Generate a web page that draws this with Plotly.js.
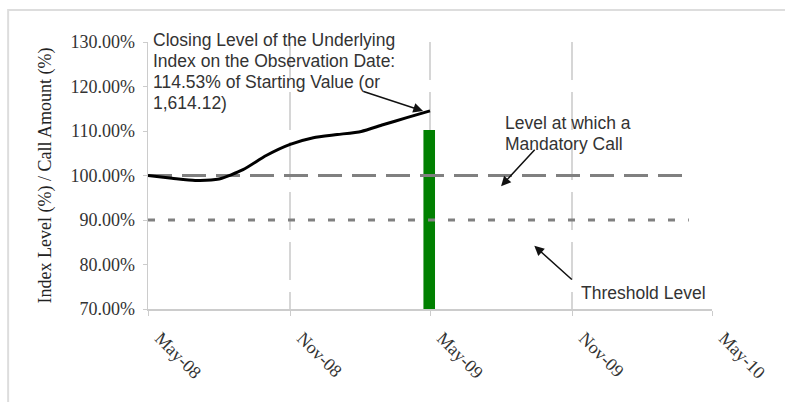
<!DOCTYPE html>
<html>
<head>
<meta charset="utf-8">
<script src="https://cdn.plot.ly/plotly-3.0.1.min.js"></script>
<style>
  html, body { margin: 0; padding: 0; background: #fff; }
  #chart { width: 785px; height: 402px; }
</style>
</head>
<body>
<div id="chart"></div>
<script>
// Index level path (monthly, % of starting value)
const indexDates = ['2008-05-01','2008-06-01','2008-07-01','2008-08-01','2008-09-01','2008-10-01','2008-11-01','2008-12-01','2009-01-01','2009-02-01','2009-03-01','2009-04-01','2009-05-01'];
const indexValues = [100.0, 99.4, 98.9, 99.2, 101.3, 104.5, 107.0, 108.5, 109.2, 109.9, 111.4, 113.0, 114.53];

// Call amount bar on the observation date
const callDates = ['2009-04-30'];
const callValues = [110.2];

// Reference levels
const levelDates = ['2008-05-01', '2010-04-01'];
const mandatoryCallLevel = [100, 100];
const thresholdLevel = [90, 90];

// Axis ticks
const yTicks = [70, 80, 90, 100, 110, 120, 130];
const yTickLabels = yTicks.map(v => v.toFixed(2) + '%');

// Annotation text lines
const closingText = ['Closing Level of the Underlying', 'Index on the Observation Date:', '114.53% of Starting Value (or', '1,614.12)'];
const callText = ['Level at which a', 'Mandatory Call'];
const thresholdText = ['Threshold Level'];

const traces = [
  { x: levelDates, y: mandatoryCallLevel, type: 'scatter', mode: 'lines',
    line: { color: '#808080', width: 3, dash: '24px,10px' }, hoverinfo: 'skip' },
  { x: levelDates, y: thresholdLevel, type: 'scatter', mode: 'lines',
    line: { color: '#808080', width: 3, dash: '7px,13px' }, hoverinfo: 'skip' },
  { x: callDates, y: callValues, type: 'bar', width: 15 * 86400000,
    marker: { color: '#008000', line: { width: 0 } } },
  { x: indexDates, y: indexValues, type: 'scatter', mode: 'lines',
    line: { color: '#000000', width: 3, shape: 'spline', smoothing: 0.6 } }
];

const textFont = { family: 'Liberation Sans, Arial, sans-serif', size: 17.5, color: '#333333' };
const serif = 'Liberation Serif, Times New Roman, serif';

// plot area: top 42px, bottom 309px
const py = p => (309 - p) / 267;
const lineGap = 21;

function textLines(lines, xDate, firstCenterPx) {
  return lines.map((t, i) => ({
    x: xDate, y: py(firstCenterPx + i * lineGap), xref: 'x', yref: 'paper',
    xanchor: 'left', yanchor: 'middle', align: 'left', showarrow: false,
    font: textFont, text: t
  }));
}

const arrows = [
  { x: '2009-04-22', y: 114.5, ax: -61, ay: -20 },
  { x: '2009-08-01', y: 97.6, ax: 35, ay: -38 },
  { x: '2009-09-13', y: 84.2, ax: 39, ay: 35 }
].map(a => Object.assign({ xref: 'x', yref: 'y', text: '', showarrow: true,
  arrowhead: 2, arrowsize: 1.3, arrowwidth: 1.5, arrowcolor: '#111111' }, a));

const layout = {
  width: 785, height: 402,
  margin: { l: 148, r: 73, t: 42, b: 93 },
  showlegend: false,
  paper_bgcolor: '#ffffff', plot_bgcolor: '#ffffff',
  font: { family: serif, size: 17, color: '#333333' },
  xaxis: {
    type: 'date',
    range: ['2008-05-01', '2010-05-01'],
    tick0: '2008-05-01', dtick: 'M6',
    tickformat: '%b-%y', tickangle: 45,
    ticklabelshift: 12, ticklabelstandoff: 5,
    showgrid: true, gridcolor: '#d6d6d6', gridwidth: 1.5, griddash: '38px,12px',
    showline: true, linecolor: '#cccccc', linewidth: 1.5,
    ticks: 'outside', ticklen: 5, tickcolor: '#cccccc',
    zeroline: false,
    tickfont: { family: serif, size: 18, color: '#333333' }
  },
  yaxis: {
    range: [70, 130], tickmode: 'array', tickvals: yTicks, ticktext: yTickLabels,
    showgrid: false, zeroline: false,
    showline: true, linecolor: '#cccccc', linewidth: 1.5,
    ticks: 'outside', ticklen: 4, tickcolor: '#cccccc',
    ticklabelstandoff: 4,
    tickfont: { family: serif, size: 18, color: '#333333' },
    title: { text: 'Index Level (%) / Call Amount (%)', standoff: 14,
      font: { family: serif, size: 18, color: '#222222' } }
  },
  shapes: [
    { type: 'rect', xref: 'paper', yref: 'paper', x0: -0.248, x1: 1.2, y0: -0.4, y1: 1.12,
      line: { color: '#dddddd', width: 2 }, fillcolor: 'rgba(0,0,0,0)', layer: 'below' }
  ],
  annotations: [].concat(
    textLines(closingText, '2008-05-05', 40),
    textLines(callText, '2009-08-03', 123),
    textLines(thresholdText, '2009-11-10', 293),
    arrows
  )
};

Plotly.newPlot('chart', traces, layout, { staticPlot: true, displayModeBar: false });
</script>
</body>
</html>
